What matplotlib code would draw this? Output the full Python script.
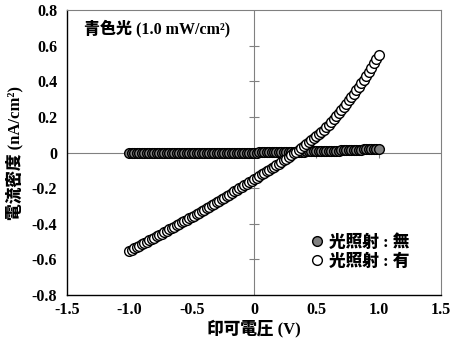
import numpy as np
import matplotlib
matplotlib.use("Agg")
import matplotlib.pyplot as plt

# Mixed Latin/Japanese labels: serif digits, gothic kana/kanji
FONTS = ["Liberation Serif", "Noto Sans CJK JP"]
plt.rcParams["font.family"] = FONTS
plt.rcParams["font.weight"] = "bold"

# Applied voltage sweep (V), 0.02 V steps
voltage = np.round(np.arange(-1.0, 1.0001, 0.02), 2)

# Current density without illumination (nA/cm2)
dark_current = [
    -0.005, -0.005, -0.005, -0.005, -0.005, -0.005, -0.005, -0.005, -0.004, -0.004,
    -0.004, -0.004, -0.004, -0.004, -0.004, -0.004, -0.004, -0.004, -0.004, -0.003,
    -0.003, -0.003, -0.003, -0.003, -0.003, -0.003, -0.003, -0.003, -0.003, -0.002,
    -0.002, -0.002, -0.002, -0.002, -0.002, -0.001, -0.001, -0.001, -0.001, -0.001,
    -0.001, -0.001, 0.000, 0.000, 0.000, 0.000, 0.000, 0.000, 0.000, 0.000,
    0.000, 0.000, 0.001, 0.001, 0.001, 0.001, 0.001, 0.002, 0.002, 0.002,
    0.002, 0.003, 0.003, 0.003, 0.003, 0.004, 0.004, 0.004, 0.005, 0.005,
    0.005, 0.006, 0.006, 0.006, 0.007, 0.007, 0.007, 0.008, 0.008, 0.009,
    0.009, 0.010, 0.010, 0.011, 0.011, 0.012, 0.012, 0.013, 0.013, 0.014,
    0.014, 0.015, 0.015, 0.016, 0.017, 0.017, 0.018, 0.019, 0.020, 0.021,
    0.022,
]

# Current density under blue light, 1.0 mW/cm2 (nA/cm2)
light_current = [
    -0.553, -0.545, -0.538, -0.530, -0.523, -0.515, -0.508, -0.500, -0.493, -0.485,
    -0.478, -0.470, -0.463, -0.455, -0.448, -0.440, -0.432, -0.424, -0.416, -0.408,
    -0.400, -0.392, -0.385, -0.377, -0.370, -0.362, -0.354, -0.345, -0.337, -0.328,
    -0.320, -0.312, -0.304, -0.295, -0.287, -0.279, -0.270, -0.262, -0.253, -0.245,
    -0.236, -0.227, -0.218, -0.210, -0.201, -0.192, -0.184, -0.175, -0.167, -0.158,
    -0.150, -0.141, -0.132, -0.123, -0.114, -0.105, -0.097, -0.088, -0.080, -0.071,
    -0.063, -0.053, -0.044, -0.034, -0.025, -0.015, -0.005, 0.005, 0.015, 0.025,
    0.035, 0.046, 0.057, 0.068, 0.079, 0.090, 0.102, 0.115, 0.128, 0.141,
    0.155, 0.171, 0.188, 0.205, 0.222, 0.240, 0.257, 0.275, 0.293, 0.311,
    0.330, 0.349, 0.369, 0.389, 0.409, 0.430, 0.453, 0.476, 0.500, 0.525,
    0.550,
]

x_ticks = [-1.5, -1.0, -0.5, 0, 0.5, 1.0, 1.5]
x_tick_labels = ["-1.5", "-1.0", "-0.5", "0", "0.5", "1.0", "1.5"]
y_ticks = [-0.8, -0.6, -0.4, -0.2, 0, 0.2, 0.4, 0.6, 0.8]
y_tick_labels = ["-0.8", "-0.6", "-0.4", "-0.2", "0", "0.2", "0.4", "0.6", "0.8"]

series_labels = ["光照射 : 無", "光照射 : 有"]

fig = plt.figure(figsize=(4.51, 3.44), dpi=100)
ax = fig.add_axes([0.1486, 0.1424, 0.8294, 0.8285])

ax.set_xlim(-1.5, 1.5)
ax.set_ylim(-0.8, 0.8)

# axis lines through the origin with crossing tick marks
grey = "#808080"
ax.axhline(0, color=grey, lw=0.8, zorder=1)
ax.axvline(0, color=grey, lw=0.8, zorder=1)
inner_x = [t for t in x_ticks if t not in (-1.5, 0, 1.5)]
inner_y = [t for t in y_ticks if t not in (-0.8, 0, 0.8)]
ax.plot(inner_x, [0] * len(inner_x), ls="none", marker="|", ms=7, mew=0.8, color=grey, zorder=1)
ax.plot([0] * len(inner_y), inner_y, ls="none", marker="_", ms=7, mew=0.8, color=grey, zorder=1)

ax.plot(voltage, dark_current, ls="none", marker="o", ms=7, mfc="#808080", mec="black",
        mew=1.0, label=series_labels[0], zorder=3)
ax.plot(voltage, light_current, ls="none", marker="o", ms=7, mfc="white", mec="black",
        mew=1.0, label=series_labels[1], zorder=4)

ax.set_xticks(x_ticks)
ax.set_xticklabels(x_tick_labels, fontsize=11.5, fontweight="bold")
ax.set_yticks(y_ticks)
ax.set_yticklabels(y_tick_labels, fontsize=11.5, fontweight="bold")
ax.tick_params(axis="y", length=0, pad=7)
ax.tick_params(axis="x", length=0, pad=5)

for side in ("left", "bottom"):
    ax.spines[side].set_color("black")
    ax.spines[side].set_linewidth(1.0)
for side in ("top", "right"):
    ax.spines[side].set_color(grey)
    ax.spines[side].set_linewidth(0.8)

ax.set_xlabel("印可電圧 (V)", fontsize=12, fontweight="heavy", labelpad=1)
ax.set_ylabel("電流密度 (nA/cm²)", fontsize=12, fontweight="heavy", labelpad=6)

ax.text(0.045, 0.935, "青色光 (1.0 mW/cm²)", transform=ax.transAxes, fontsize=11.5,
        fontweight="heavy", va="center", ha="left")

ax.legend(loc="center left", bbox_to_anchor=(0.625, 0.15), frameon=False,
          handletextpad=0.1, labelspacing=0.15, borderaxespad=0,
          prop={"family": FONTS, "size": 12, "weight": "heavy"}, handlelength=1.2)

fig.savefig("out.png", dpi=100)
